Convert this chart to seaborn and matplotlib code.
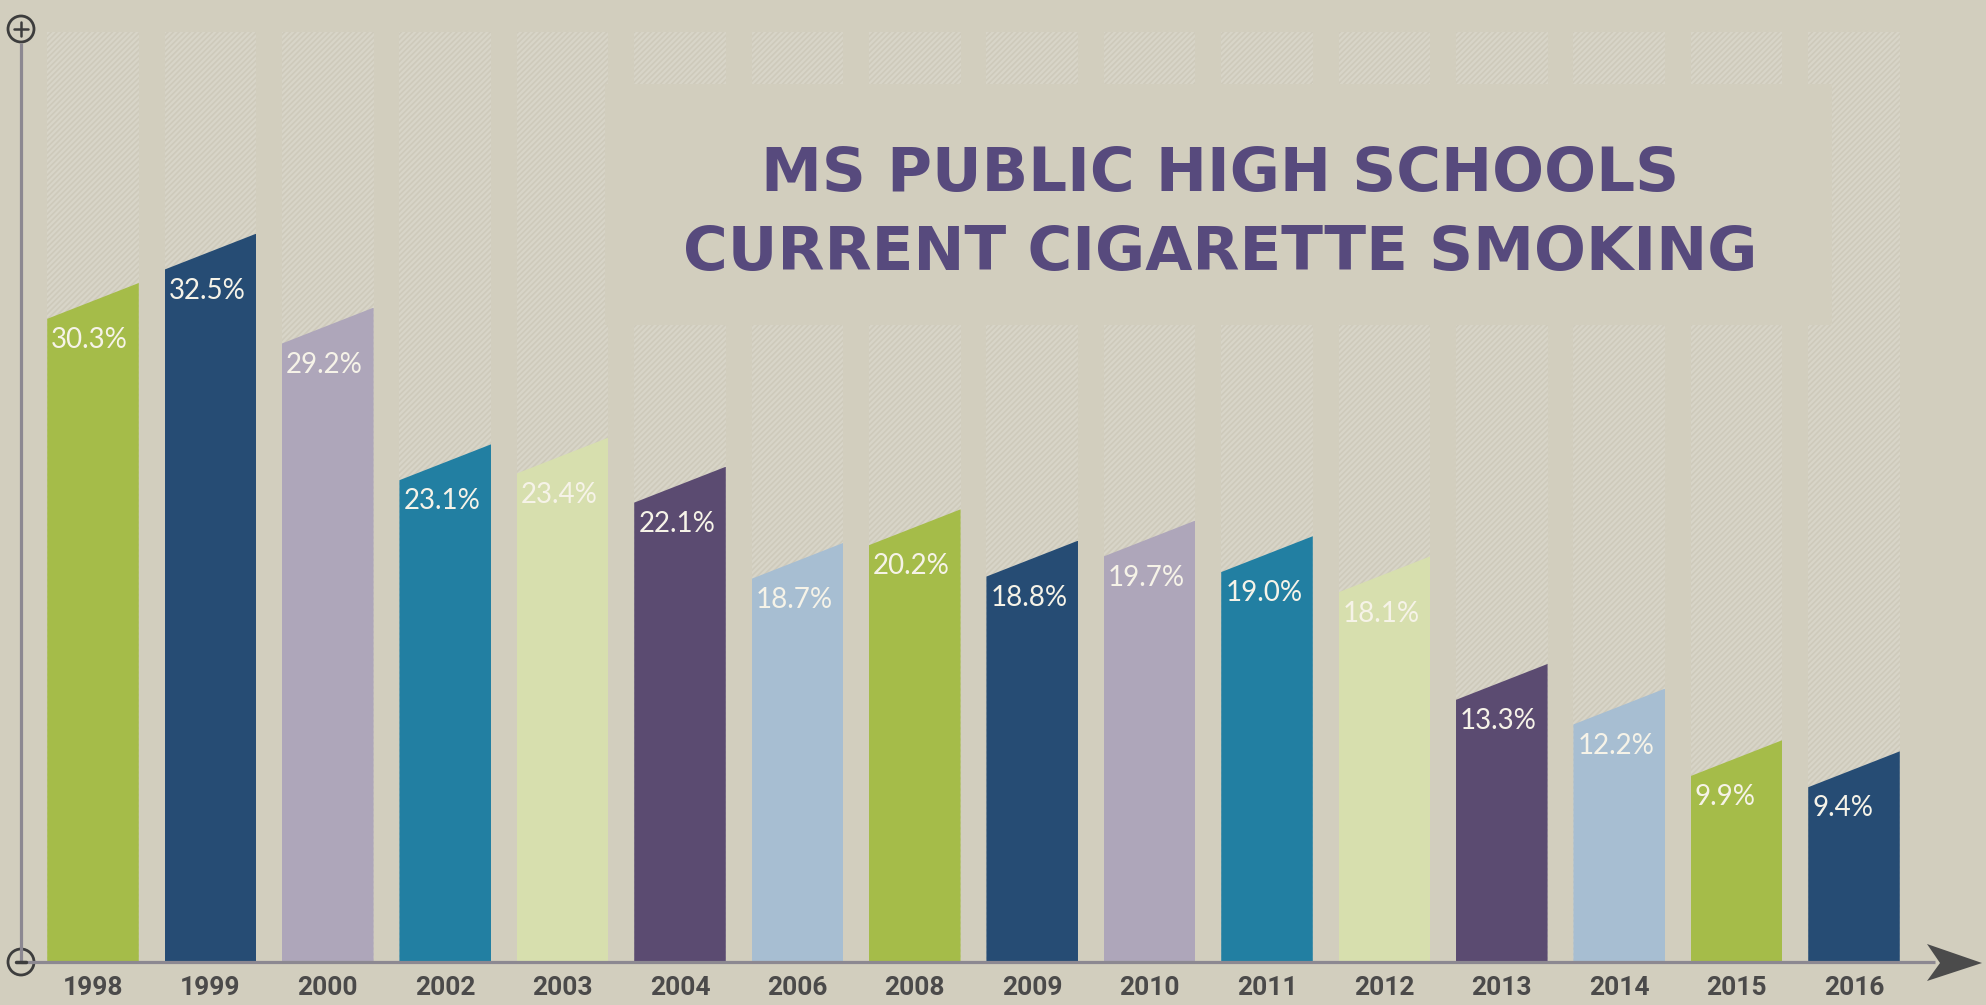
import matplotlib
matplotlib.use("Agg")
import matplotlib.pyplot as plt
from matplotlib.patches import Polygon, Rectangle, Circle
import seaborn as sns

years = ["1998", "1999", "2000", "2002", "2003", "2004", "2006", "2008",
         "2009", "2010", "2011", "2012", "2013", "2014", "2015", "2016"]
smoking_pct = [30.3, 32.5, 29.2, 23.1, 23.4, 22.1, 18.7, 20.2,
               18.8, 19.7, 19.0, 18.1, 13.3, 12.2, 9.9, 9.4]
value_labels = ["30.3%", "32.5%", "29.2%", "23.1%", "23.4%", "22.1%", "18.7%", "20.2%",
                "18.8%", "19.7%", "19.0%", "18.1%", "13.3%", "12.2%", "9.9%", "9.4%"]
bar_colors = ["#a5bc49", "#264c74", "#aea6ba", "#227fa2", "#d7dfae", "#5b4b71", "#a7bed2",
              "#a5bc49", "#264c74", "#aea6ba", "#227fa2", "#d7dfae", "#5b4b71", "#a7bed2",
              "#a5bc49", "#264c74"]
title_lines = ["MS PUBLIC HIGH SCHOOLS", "CURRENT CIGARETTE SMOKING"]

BG = "#d2cebe"
Y_TOP = 41.5      # top of the hatched backdrop columns
SLANT = 1.6       # drop of the top-left corner of each bar
W, H = 1986, 1005

sns.set_theme(style="white")
plt.rcParams["font.family"] = ["Lato", "DejaVu Sans"]
plt.rcParams["hatch.linewidth"] = 1.2

fig = plt.figure(figsize=(W / 100, H / 100), dpi=100, facecolor=BG)
ax = fig.add_axes([34.3 / W, 43 / H, 1878.4 / W, 930 / H])
ax.set_facecolor("none")

# hatched backdrop columns
sns.barplot(x=years, y=[Y_TOP] * len(years), order=years, color="#d8d5c8",
            width=0.78, saturation=1, linewidth=0, ax=ax)
n_back = len(ax.patches)
for p in ax.patches:
    p.set_hatch("//////")
    p.set_edgecolor("#ceCAbb")
    p.set_linewidth(0)

# the real bars
sns.barplot(x=years, y=smoking_pct, order=years, hue=years, palette=bar_colors,
            legend=False, width=0.78, saturation=1, linewidth=0, ax=ax)
bars = ax.patches[n_back:]
for p, lab in zip(bars, value_labels):
    x0, w, h = p.get_x(), p.get_width(), p.get_height()
    clip = Polygon([(x0, 0), (x0, h - SLANT), (x0 + w, h), (x0 + w, 0)],
                   closed=True, transform=ax.transData)
    p.set_clip_path(clip)
    ax.text(x0 + 0.035, h - SLANT - 0.95, lab, ha="left", va="center",
            fontsize=20, color="#f6f3e8", family=["Lato", "DejaVu Sans"])

ax.set_xlim(-0.5, len(years) - 0.5)
ax.set_ylim(0, Y_TOP)
for s in ax.spines.values():
    s.set_visible(False)
ax.set_yticks([])
ax.set_xlabel("")
ax.set_ylabel("")
ax.tick_params(axis="x", length=0, pad=10)
for t in ax.get_xticklabels():
    t.set_fontfamily(["Roboto", "DejaVu Sans"])
    t.set_fontweight("bold")
    t.set_fontsize(19)
    t.set_color("#4b4a4a")

# decorations in pixel space: title panel, axis arrows
deco = fig.add_axes([0, 0, 1, 1], zorder=3)
deco.set_xlim(0, W)
deco.set_ylim(H, 0)
deco.axis("off")
deco.patch.set_alpha(0)

deco.add_patch(Rectangle((605, 84), 1227, 241, fc=BG, ec="none"))
for line, yy in zip(title_lines, [174, 253]):
    deco.text(1220, yy, line, ha="center", va="center", fontsize=44,
              fontweight="bold", color="#574a7d", family=["DejaVu Sans"])

axis_col = "#8c8891"
deco.plot([21, 21], [43, 962], color=axis_col, lw=2.3, solid_capstyle="butt")
deco.plot([21, 1935], [962, 962], color=axis_col, lw=2.3, solid_capstyle="butt")
deco.add_patch(Polygon([(1927, 944), (1982, 963), (1927, 981), (1940, 963)],
                       closed=True, fc="#4b4b4b", ec="none"))
dark = "#3d3d3d"
deco.add_patch(Circle((21, 29), 13, fc=BG, ec=dark, lw=2))
deco.plot([14, 28], [29, 29], color=dark, lw=1.8)
deco.plot([21, 21], [22, 36], color=dark, lw=1.8)
deco.add_patch(Circle((21, 962), 13, fc=BG, ec=dark, lw=2))
deco.plot([16, 26], [962, 962], color=dark, lw=2.5)

fig.savefig("out.png", dpi=100, facecolor=BG)
